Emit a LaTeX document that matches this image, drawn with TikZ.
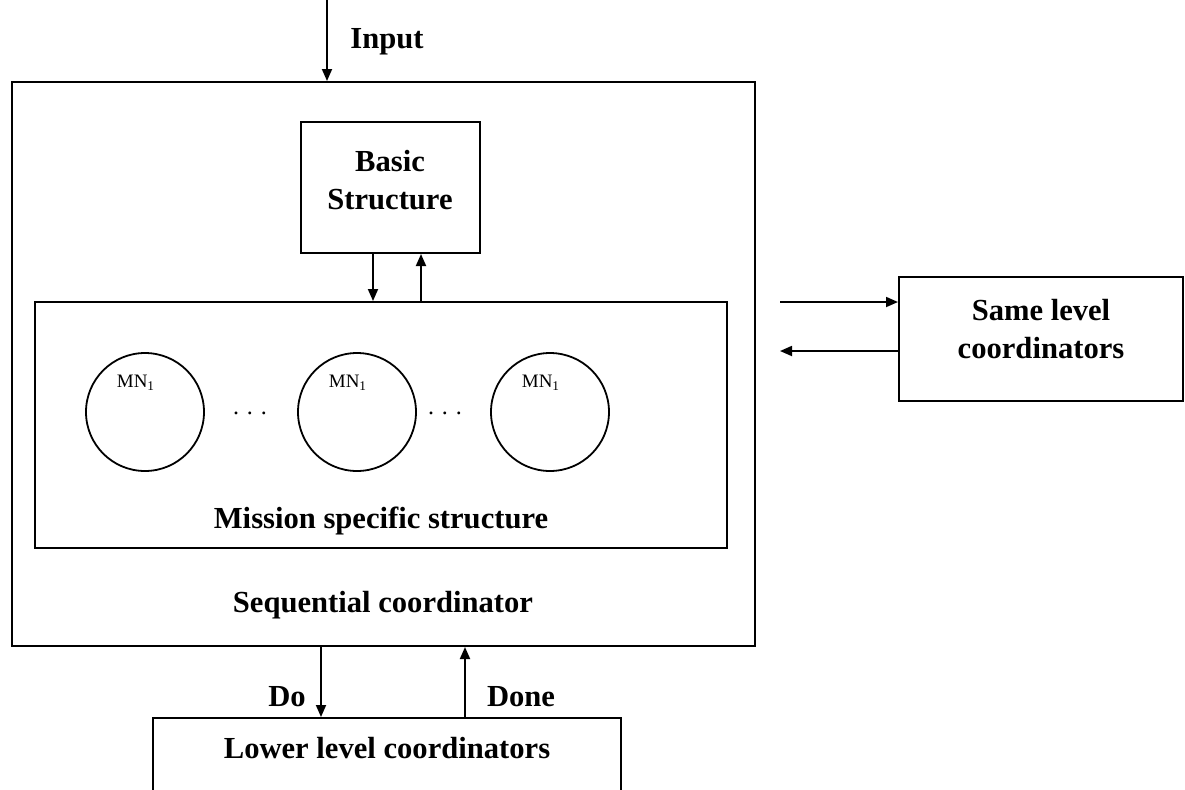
\documentclass[tikz,border=0pt]{standalone}
\usepackage{fontspec}
\setmainfont{Liberation Serif}
\usetikzlibrary{arrows.meta,fit}
\begin{document}
\begin{tikzpicture}[x=0.5pt,y=-0.5pt,
  box/.style={draw,line width=1pt,inner sep=0pt},
  lbl/.style={font=\bfseries\fontsize{15.3}{19}\selectfont,align=center,inner sep=0pt},
  mn/.style={draw,line width=0.9pt,circle,minimum size=59pt,inner sep=0pt},
  arr/.style={line width=0.9pt,-{Triangle[length=6pt,width=5pt]}},
  small/.style={font=\fontsize{9.5}{11}\selectfont,inner sep=0pt},
  dotsty/.style={font=\fontsize{12}{14}\selectfont,inner sep=0pt}]
\useasboundingbox (0,0) rectangle (1185,789);
\clip (0,0) rectangle (1185,789);

% containers
\node[box,fit={(12,82)(755,646)}] (outer) {};
\node[box,fit={(301,122)(480,253)}] (basic) {};
\node[box,fit={(35,302)(727,548)}] (mission) {};
\node[box,fit={(899,277)(1183,401)}] (same) {};
\node[box,fit={(153,718)(621,810)}] (lower) {};

% box labels
\node[lbl] (basicT) at (390,180) {Basic\\Structure};
\node[lbl] (missionT) at (381,521) {Mission specific structure};
\node[lbl] (seqT) at (383,605) {Sequential coordinator};
\node[lbl] (sameT) at (1041,329) {Same level\\coordinators};
\node[lbl] (lowerT) at (387,748) {Lower level coordinators};

% mission nodes
\node[mn] (mn1) at (145,412) {};
\node[mn] (mn2) at (357,412) {};
\node[mn] (mn3) at (550,412) {};
\node[small] (mn1T) at (136,383) {MN\textsubscript{1}};
\node[small] (mn2T) at (348,383) {MN\textsubscript{1}};
\node[small] (mn3T) at (541,383) {MN\textsubscript{1}};
\node[dotsty] (dotsA) at (250,413) {. . .};
\node[dotsty] (dotsB) at (445,413) {. . .};

% input
\coordinate (inTop) at (327,0);
\draw[arr] (inTop) -- (inTop |- outer.north);
\node[lbl] (inT) at (387,42) {Input};

% basic <-> mission
\coordinate (bDown) at (373,0);
\coordinate (bUp) at (421,0);
\draw[arr] (basic.south -| bDown) -- (mission.north -| bDown);
\draw[arr] (mission.north -| bUp) -- (basic.south -| bUp);

% same level exchange
\coordinate (sOut) at (780,302);
\coordinate (sIn) at (780,351);
\draw[arr] (sOut) -- (sOut -| same.west);
\draw[arr] (sIn -| same.west) -- (sIn);

% lower level
\coordinate (doX) at (321,0);
\coordinate (doneX) at (465,0);
\draw[arr] (outer.south -| doX) -- (lower.north -| doX);
\draw[arr] (lower.north -| doneX) -- (outer.south -| doneX);
\node[lbl] (doT) at (287,697) {Do};
\node[lbl] (doneT) at (521,697) {Done};
\end{tikzpicture}
\end{document}
